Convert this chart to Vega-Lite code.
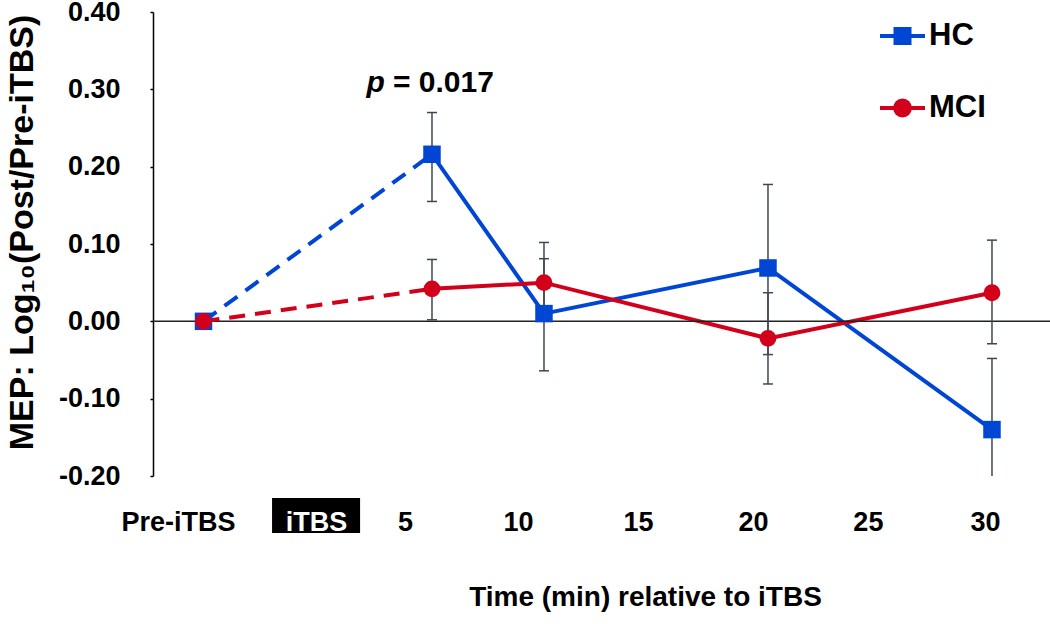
{
  "$schema": "https://vega.github.io/schema/vega-lite/v6.json",
  "width": 897,
  "height": 464,
  "autosize": {"type": "none"},
  "padding": {"left": 153, "top": 12, "right": 0, "bottom": 148},
  "background": "white",
  "config": {"view": {"stroke": null}, "font": "Liberation Sans"},
  "datasets": {
    "mep": [
      {"group": "HC", "time": "Pre-iTBS", "t": -5.2, "y": 0.0, "lo": null, "hi": null},
      {"group": "HC", "time": "5", "t": 5, "y": 0.216, "lo": 0.155, "hi": 0.270},
      {"group": "HC", "time": "10", "t": 10, "y": 0.010, "lo": -0.064, "hi": 0.102},
      {"group": "HC", "time": "20", "t": 20, "y": 0.069, "lo": -0.043, "hi": 0.177},
      {"group": "HC", "time": "30", "t": 30, "y": -0.140, "lo": -0.235, "hi": -0.048},
      {"group": "MCI", "time": "Pre-iTBS", "t": -5.2, "y": 0.0, "lo": null, "hi": null},
      {"group": "MCI", "time": "5", "t": 5, "y": 0.042, "lo": 0.002, "hi": 0.080},
      {"group": "MCI", "time": "10", "t": 10, "y": 0.050, "lo": 0.018, "hi": 0.081},
      {"group": "MCI", "time": "20", "t": 20, "y": -0.022, "lo": -0.081, "hi": 0.037},
      {"group": "MCI", "time": "30", "t": 30, "y": 0.037, "lo": -0.029, "hi": 0.105}
    ]
  },
  "data": {"name": "mep"},
  "layer": [
    {
      "transform": [{"filter": "datum.t >= 5"}],
      "mark": {"type": "line", "strokeWidth": 4},
      "encoding": {
        "x": {
          "field": "t", "type": "quantitative",
          "scale": {"domain": [-7.455, 32.59], "nice": false, "zero": false},
          "axis": {
            "values": [-6.34, -0.18, 3.8, 8.84, 14.2, 19.33, 24.46, 29.69],
            "labelExpr": "datum.value < -3 ? 'Pre-iTBS' : datum.value < 2 ? 'iTBS' : '' + round(datum.value / 5) * 5",
            "domain": false, "ticks": false, "tickSize": 0, "grid": false,
            "labelPadding": 54, "labelBaseline": "alphabetic",
            "labelFontSize": 27, "labelFontWeight": "bold", "labelFont": "Liberation Sans",
            "labelColor": {"condition": {"test": "datum.value > -3 && datum.value < 2", "value": "white"}, "value": "black"},
            "labelFlush": false, "labelOverlap": false, "labelBound": false,
            "title": "Time (min) relative to iTBS",
            "titleFontSize": 28, "titleFontWeight": "bold", "titleFont": "Liberation Sans", "titleColor": "black",
            "titleX": 492, "titleY": 129, "titleBaseline": "alphabetic", "titleAlign": "center",
            "zindex": 2
          }
        },
        "y": {
          "field": "y", "type": "quantitative",
          "scale": {"domain": [-0.2, 0.4], "nice": false, "zero": false},
          "axis": {
            "values": [-0.2, -0.1, 0, 0.1, 0.2, 0.3, 0.4],
            "labelExpr": "datum.value < -0.0001 ? '-' + format(-datum.value, '.2f') : format(abs(datum.value), '.2f')",
            "grid": false, "domain": true, "domainColor": "black", "domainWidth": 1.5,
            "ticks": true, "tickSize": 3, "tickColor": "black", "tickWidth": 1.5,
            "labelFontSize": 27, "labelFontWeight": "bold", "labelFont": "Liberation Sans", "labelColor": "black",
            "labelPadding": 30, "labelFlush": false, "labelOverlap": false,
            "title": "MEP: Log₁₀(Post/Pre-iTBS)",
            "titleFontSize": 34, "titleFontWeight": "bold", "titleFont": "Liberation Sans", "titleColor": "black",
            "titleX": -121, "titleY": 220, "titleBaseline": "alphabetic", "titleAlign": "center", "titleAngle": -90
          }
        },
        "color": {
          "field": "group", "type": "nominal",
          "scale": {"domain": ["HC", "MCI"], "range": ["#0046D5", "#D2001A"]},
          "legend": {
            "orient": "none", "legendX": 727, "legendY": 1.5, "title": null, "padding": 0,
            "symbolSize": 2025, "symbolType": "M-1,-0.089L1,-0.089L1,0.089L-1,0.089Z", "labelFontSize": 31, "labelFontWeight": "bold", "labelColor": "black",
            "labelFont": "Liberation Sans", "labelOffset": 4, "rowPadding": 34, "labelLimit": 0,
            "encode": {
              "symbols": {
                "update": {
                  "shape": {"signal": "datum.value === 'HC' ? 'M-1,-0.089L-0.4,-0.089L-0.4,-0.4L0.4,-0.4L0.4,-0.089L1,-0.089L1,0.089L0.4,0.089L0.4,0.4L-0.4,0.4L-0.4,0.089L-1,0.089Z' : 'M-1,-0.089L1,-0.089L1,0.089L-1,0.089Z M0.42,0L0.388,0.161L0.297,0.297L0.161,0.388L0,0.42L-0.161,0.388L-0.297,0.297L-0.388,0.161L-0.42,0L-0.388,-0.161L-0.297,-0.297L-0.161,-0.388L0,-0.42L0.161,-0.388L0.297,-0.297L0.388,-0.161Z'"},
                  "fill": {"signal": "datum.value === 'HC' ? '#0046D5' : '#D2001A'"},
                  "stroke": {"value": "transparent"},
                  "strokeWidth": {"value": 0},
                  "size": {"value": 2025},
                  "opacity": {"value": 1},
                  "fillOpacity": {"value": 1}
                }
              }
            }
          }
        },
        "order": {"field": "t", "type": "quantitative"}
      }
    },
    {
      "data": {"values": [{}]},
      "mark": {"type": "rule", "color": "#222222", "strokeWidth": 1.5},
      "encoding": {
        "y": {"datum": 0, "type": "quantitative"}
      }
    },
    {
      "data": {"values": [{}]},
      "mark": {"type": "rect", "color": "black", "clip": false},
      "encoding": {
        "x": {"datum": -2.14, "type": "quantitative"},
        "x2": {"datum": 1.79},
        "y": {"datum": -0.2285, "type": "quantitative"},
        "y2": {"datum": -0.2737}
      }
    },
    {
      "transform": [{"filter": "datum.t <= 5 && datum.group == 'HC'"}],
      "mark": {"type": "line", "strokeWidth": 4, "strokeDash": [16, 10], "color": "#0046D5"},
      "encoding": {
        "x": {"field": "t", "type": "quantitative"},
        "y": {"field": "y", "type": "quantitative"},
        "order": {"field": "t", "type": "quantitative"}
      }
    },
    {
      "transform": [{"filter": "datum.t <= 5 && datum.group == 'MCI'"}],
      "mark": {"type": "line", "strokeWidth": 4, "strokeDash": [16, 10], "color": "#D2001A"},
      "encoding": {
        "x": {"field": "t", "type": "quantitative"},
        "y": {"field": "y", "type": "quantitative"},
        "order": {"field": "t", "type": "quantitative"}
      }
    },
    {
      "mark": {"type": "rule", "color": "#3E4756", "strokeWidth": 1.5, "clip": true},
      "encoding": {
        "x": {"field": "t", "type": "quantitative"},
        "y": {"field": "lo", "type": "quantitative"},
        "y2": {"field": "hi"}
      }
    },
    {
      "mark": {"type": "tick", "orient": "horizontal", "color": "#3E4756", "size": 10, "thickness": 1.5, "clip": true, "opacity": 1},
      "encoding": {
        "x": {"field": "t", "type": "quantitative"},
        "y": {"field": "lo", "type": "quantitative"}
      }
    },
    {
      "mark": {"type": "tick", "orient": "horizontal", "color": "#3E4756", "size": 10, "thickness": 1.5, "clip": true, "opacity": 1},
      "encoding": {
        "x": {"field": "t", "type": "quantitative"},
        "y": {"field": "hi", "type": "quantitative"}
      }
    },
    {
      "transform": [{"filter": "datum.group == 'HC'"}],
      "mark": {"type": "point", "filled": true, "opacity": 1, "shape": "square", "size": 306, "color": "#0046D5"},
      "encoding": {
        "x": {"field": "t", "type": "quantitative"},
        "y": {"field": "y", "type": "quantitative"}
      }
    },
    {
      "transform": [{"filter": "datum.group == 'MCI'"}],
      "mark": {"type": "point", "filled": true, "opacity": 1, "shape": "circle", "size": 284, "color": "#D2001A"},
      "encoding": {
        "x": {"field": "t", "type": "quantitative"},
        "y": {"field": "y", "type": "quantitative"}
      }
    },
    {
      "data": {"values": [{"txt": "p"}]},
      "mark": {"type": "text", "align": "right", "baseline": "alphabetic", "fontSize": 30, "fontWeight": "bold", "fontStyle": "italic", "font": "Liberation Sans", "color": "black"},
      "encoding": {
        "x": {"datum": 2.9, "type": "quantitative"},
        "y": {"datum": 0.297, "type": "quantitative"},
        "text": {"field": "txt"}
      }
    },
    {
      "data": {"values": [{"txt": "= 0.017"}]},
      "mark": {"type": "text", "align": "left", "baseline": "alphabetic", "dx": 8, "fontSize": 30, "fontWeight": "bold", "font": "Liberation Sans", "color": "black"},
      "encoding": {
        "x": {"datum": 2.9, "type": "quantitative"},
        "y": {"datum": 0.297, "type": "quantitative"},
        "text": {"field": "txt"}
      }
    }
  ]
}
